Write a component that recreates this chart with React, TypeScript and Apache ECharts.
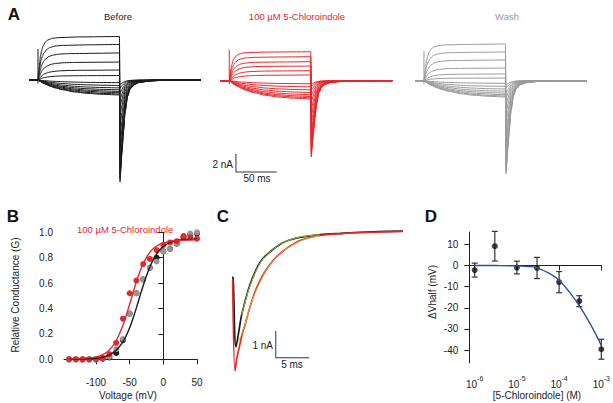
import React, { useEffect, useRef } from 'react';
import * as echarts from 'echarts';

const FONT = '"Liberation Sans", Arial, Helvetica, sans-serif';
const RED = '#e8262b';
const GRAY = '#959595';
const BLACK = '#1a1a1a';

// ---------- Panel A (ms, nA) ----------
const A_TITLES = ['Before', '100 µM 5-Chloroindole', 'Wash'];
const A_COLORS = [BLACK, RED, '#9a9a9a'];
const A_OUTWARD = [
  [4.97, 4.06, 3.09, 2.06, 1.14, 0.51],
  [3.31, 2.74, 2.17, 1.68, 1.14, 0.65],
  [4.19, 3.28, 2.37, 1.45, 0.77, 0.3],
];
const A_INWARD = [
  [-1.71, -1.6, -1.45, -1.3, -1.12, -0.9, -0.62, -0.3],
  [-2.09, -1.95, -1.8, -1.6, -1.35, -1.05, -0.7, -0.35],
  [-1.86, -1.75, -1.6, -1.42, -1.2, -0.95, -0.65, -0.3],
];
const A_TAIL_PEAKS = [
  [-11.66, -11.3, -10.8, -10.0, -9.0, -7.8, -6.5, -5.2, -4.0, -3.0, -2.2, -1.5, -0.9, -0.5],
  [-8.72, -8.4, -8.0, -7.4, -6.7, -5.9, -5.0, -4.1, -3.2, -2.4, -1.7, -1.1, -0.7, -0.4],
  [-10.66, -10.3, -9.8, -9.1, -8.2, -7.1, -6.0, -4.8, -3.7, -2.8, -2.0, -1.4, -0.8, -0.45],
];
const A_CAP = [3.54, 3.5, 3.4];
const ACT_STRETCH = [1, 1.25, 1.5, 1.8, 2.2, 2.6];
const ACT_SHAPE = [[1, 0.2], [2, 0.4], [3, 0.55], [4.5, 0.68], [6, 0.77], [9, 0.87], [12, 0.92], [18, 0.96], [25, 0.975], [50, 0.99]];
const INW_SHAPE = [[3, 0.1], [6, 0.2], [10, 0.3], [15, 0.42], [21, 0.53], [30, 0.65], [45, 0.8], [60, 0.89], [80, 0.96]];
const TAIL_SHAPE = [[100.6, 1], [101.5, 0.9], [103, 0.72], [105, 0.5], [107, 0.31], [110, 0.16], [113, 0.09], [118, 0.045], [125, 0.022], [140, 0.008], [160, 0], [200, 0]];
const A_GRID_LEFT = [28.2, 219.5, 414.2];
const A_GRID_TOP = [27.5, 28.2, 28.2];
const SCALE_A_X = [8.2, 58.2];
const SCALE_A_Y = [-8.38, -10.43];

// ---------- Panel B ----------
const B_V = [-140, -130, -120, -110, -100, -90, -80, -70, -60, -50, -40, -30, -20, -10, 0, 10, 20, 30, 40, 50];
const B_BLACK = [0, 0, 0, 0, 0, 0.005, 0.015, 0.05, 0.15, 0.36, 0.52, 0.63, 0.72, 0.8, 0.85, 0.87, 0.91, 0.96, 0.98, 0.99];
const B_GRAY = [0, 0, 0, 0, 0, 0.01, 0.02, 0.08, 0.16, 0.36, 0.52, 0.63, 0.72, 0.77, 0.85, 0.87, 0.91, 0.97, 0.99, 1.0];
const B_RED = [0, 0, 0, 0, 0, 0.01, 0.04, 0.13, 0.32, 0.52, 0.62, 0.75, 0.79, 0.86, 0.9, 0.92, 0.93, 0.97, 0.96, 0.95];
const B_FIT_V = [-140, -100, -90, -80, -70, -60, -55, -50, -45, -40, -35, -30, -25, -20, -15, -10, -5, 0, 10, 20, 30, 50];
const B_FIT_BLACK = [0, 0.008, 0.017, 0.035, 0.071, 0.137, 0.187, 0.249, 0.322, 0.405, 0.493, 0.579, 0.658, 0.727, 0.785, 0.829, 0.863, 0.888, 0.92, 0.935, 0.943, 0.948];
const B_FIT_RED = [0.001, 0.017, 0.036, 0.074, 0.146, 0.267, 0.347, 0.434, 0.524, 0.61, 0.687, 0.752, 0.803, 0.842, 0.871, 0.892, 0.907, 0.917, 0.929, 0.935, 0.937, 0.94];

// ---------- Panel C (ms, nA) ----------
const C_BLACK = [[0, -1.67], [0.08, -1.8], [0.5, -4.3], [0.9, -3.75], [1.3, -3.15], [1.84, -2.61], [2.35, -2.15], [2.85, -1.8], [3.84, -1.24], [4.5, -1.0], [5.34, -0.8], [6.3, -0.6], [7.35, -0.42], [8.5, -0.3], [9.83, -0.21], [12.8, -0.11], [16.3, -0.05], [20.8, 0.01], [25.5, 0.03]];
const C_RED = [[0, -1.8], [0.35, -5.2], [0.6, -4.75], [1.0, -4.3], [1.4, -3.85], [1.84, -3.48], [2.6, -2.8], [3.34, -2.24], [4.1, -1.82], [4.84, -1.49], [5.6, -1.22], [6.34, -0.99], [7.5, -0.72], [8.85, -0.49], [10.3, -0.3], [12.8, -0.14], [16.3, -0.06], [20.8, -0.01], [25.5, 0.02]];
const C_FIT_BLACK = [[1.35, -3.1], [1.84, -2.65], [2.35, -2.2], [2.85, -1.85], [3.84, -1.28], [4.5, -1.02], [5.34, -0.8], [6.3, -0.6], [7.35, -0.42], [8.5, -0.3], [9.83, -0.2], [11.4, -0.14], [13, -0.1]];
const C_FIT_RED = [[0.84, -4.1], [1.3, -3.85], [1.84, -3.45], [2.6, -2.8], [3.34, -2.3], [4.1, -1.88], [4.84, -1.52], [5.6, -1.24], [6.34, -1.0], [7.5, -0.72], [8.85, -0.5], [10.3, -0.32], [11.6, -0.22], [13, -0.14]];
const SCALE_C_X = [6.45, 11.45];
const SCALE_C_Y = [-3.71, -4.71];

// ---------- Panel D ----------
const D_LOGC = [-6, -5.523, -5, -4.523, -4, -3.523, -3];
const D_MEAN = [-2.2, 9.1, -1.0, -1.2, -7.9, -16.9, -39.6];
const D_ERR = [3.3, 7.0, 3.0, 5.0, 5.0, 2.6, 4.7];
const D_FIT_X = [-6, -5.5, -5, -4.75, -4.54, -4.23, -4.0, -3.76, -3.53, -3.29, -3.06, -3];
const D_FIT_Y = [0, -0.05, -0.2, -0.5, -1.0, -3.8, -7, -12.5, -18.8, -26.7, -35.3, -38];
const D_X_TICKS = [-6, -5, -4, -3];
const D_Y_TICKS = [-40, -30, -20, -10, 0, 10];

function buildTrace(plateau: number, stretch: number, shape: number[][], tailPeak: number) {
  const pts: number[][] = [[-11, 0], [0, 0]];
  for (const [t, s] of shape) {
    const tt = t * stretch;
    if (tt < 100) pts.push([tt, plateau * s]);
  }
  pts.push([100, plateau]);
  for (const [t, s] of TAIL_SHAPE) pts.push([t, tailPeak * s]);
  return pts;
}

const txt = (text: string, x: number, y: number, opts: any = {}) => ({
  type: 'text',
  x,
  y,
  rotation: opts.rotation || 0,
  style: {
    text,
    fill: opts.fill || '#222',
    font: `${opts.weight || 'normal'} ${opts.size || 10}px ${FONT}`,
    textAlign: opts.align || 'center',
    textVerticalAlign: 'middle',
  },
});

export default function App() {
  const ref = useRef<HTMLDivElement>(null);
  useEffect(() => {
    if (!ref.current) return;
    const chart = echarts.init(ref.current, undefined, { renderer: 'svg' });

    const grid: any[] = [];
    const xAxis: any[] = [];
    const yAxis: any[] = [];
    const series: any[] = [];

    // Panel A grids 0..2
    for (let p = 0; p < 3; p++) {
      grid.push({ left: A_GRID_LEFT[p], top: A_GRID_TOP[p], width: 172.8, height: 161.9 });
      xAxis.push({ gridIndex: p, type: 'value', min: -12, max: 200, show: false });
      yAxis.push({ gridIndex: p, type: 'value', min: -12.5, max: 6, show: false });
      const col = A_COLORS[p];
      const lineBase = { type: 'line', xAxisIndex: p, yAxisIndex: p, showSymbol: false, symbol: 'none', smooth: 0.25, smoothMonotone: 'x', lineStyle: { color: col, width: 1 }, silent: true };
      A_OUTWARD[p].forEach((pl, i) => {
        series.push({ ...lineBase, data: buildTrace(pl, ACT_STRETCH[i], ACT_SHAPE, A_TAIL_PEAKS[p][i]) });
      });
      A_INWARD[p].forEach((pl, j) => {
        series.push({ ...lineBase, data: buildTrace(pl, 1, INW_SHAPE, A_TAIL_PEAKS[p][6 + j]) });
      });
      series.push({ ...lineBase, smooth: false, data: [[0, A_CAP[p]], [0, -0.4]] });
    }
    // scale bar A (in red panel grid)
    series.push({
      type: 'line', xAxisIndex: 1, yAxisIndex: 1, symbol: 'none', silent: true,
      lineStyle: { color: '#333', width: 1 },
      data: [[SCALE_A_X[0], SCALE_A_Y[0]], [SCALE_A_X[0], SCALE_A_Y[1]], [SCALE_A_X[1], SCALE_A_Y[1]]],
    });

    const axisCommon = {
      axisLine: { lineStyle: { color: '#231f20', width: 1 } },
      axisTick: { lineStyle: { color: '#231f20', width: 1 }, length: 5 },
      splitLine: { show: false },
      axisLabel: { color: '#222', fontFamily: FONT, fontSize: 10 },
    };

    // Panel B grid 3
    grid.push({ left: 64, top: 232.3, width: 133, height: 131.7 });
    xAxis.push({
      ...axisCommon, gridIndex: 3, type: 'value', min: -147.5, max: 50,
      axisTick: { ...axisCommon.axisTick, customValues: [-100, -50, 0, 50] },
      axisLabel: { ...axisCommon.axisLabel, customValues: [-100, -50, 0, 50], margin: 13 },
    });
    yAxis.push({
      ...axisCommon, gridIndex: 3, type: 'value', min: -0.037, max: 1.0,
      axisTick: { ...axisCommon.axisTick, customValues: [0, 0.2, 0.4, 0.6, 0.8, 1.0] },
      axisLabel: { ...axisCommon.axisLabel, customValues: [0, 0.2, 0.4, 0.6, 0.8, 1.0], margin: 11, formatter: (v: number) => v.toFixed(1) },
    });
    const scat = (data: number[], color: string) => ({
      type: 'scatter', xAxisIndex: 3, yAxisIndex: 3, symbolSize: 6, silent: true,
      itemStyle: { color, opacity: 1 },
      data: B_V.map((v, i) => [v, data[i]]),
    });
    series.push(scat(B_BLACK, BLACK));
    series.push(scat(B_GRAY, GRAY));
    series.push(scat(B_RED, RED));
    series.push({
      type: 'line', xAxisIndex: 3, yAxisIndex: 3, symbol: 'none', smooth: 0.3, silent: true,
      lineStyle: { color: BLACK, width: 1.4 }, data: B_FIT_V.map((v, i) => [v, B_FIT_BLACK[i]]),
    });
    series.push({
      type: 'line', xAxisIndex: 3, yAxisIndex: 3, symbol: 'none', smooth: 0.3, silent: true,
      lineStyle: { color: RED, width: 1.4 }, data: B_FIT_V.map((v, i) => [v, B_FIT_RED[i]]),
    });

    // Panel C grid 4
    grid.push({ left: 232.7, top: 218.65, width: 170.3, height: 160.2 });
    xAxis.push({ gridIndex: 4, type: 'value', min: 0, max: 25.5, show: false });
    yAxis.push({ gridIndex: 4, type: 'value', min: -5.5, max: 0.5, show: false });
    const cLine = (data: number[][], color: string, width: number) => ({
      type: 'line', xAxisIndex: 4, yAxisIndex: 4, symbol: 'none', smooth: 0.4, silent: true,
      lineStyle: { color, width }, data,
    });
    series.push(cLine(C_BLACK, BLACK, 1.7));
    series.push(cLine(C_RED, RED, 1.7));
    series.push(cLine(C_FIT_BLACK, '#9cc63b', 1));
    series.push(cLine(C_FIT_RED, '#b9c43c', 1));
    series.push({
      type: 'line', xAxisIndex: 4, yAxisIndex: 4, symbol: 'none', silent: true,
      lineStyle: { color: '#333', width: 1 },
      data: [[SCALE_C_X[0], SCALE_C_Y[0]], [SCALE_C_X[0], SCALE_C_Y[1]], [SCALE_C_X[1], SCALE_C_Y[1]]],
    });

    // Panel D grid 5
    grid.push({ left: 469.3, top: 232, width: 133.4, height: 131 });
    xAxis.push({
      ...axisCommon, gridIndex: 5, type: 'value', min: -6.127, max: -3,
      axisTick: { ...axisCommon.axisTick, customValues: D_X_TICKS },
      axisLabel: {
        ...axisCommon.axisLabel, customValues: D_X_TICKS, margin: 12,
        formatter: (v: number) => `{b|10}{s|${Math.round(v)}}`,
        rich: {
          b: { fontSize: 10, fontFamily: FONT, color: '#222', lineHeight: 14, verticalAlign: 'bottom' },
          s: { fontSize: 7, fontFamily: FONT, color: '#222', lineHeight: 8, verticalAlign: 'top' },
        },
      },
    });
    yAxis.push({
      ...axisCommon, gridIndex: 5, type: 'value', min: -46.1, max: 15.8,
      axisTick: { ...axisCommon.axisTick, customValues: D_Y_TICKS },
      axisLabel: { ...axisCommon.axisLabel, customValues: D_Y_TICKS, margin: 11 },
    });
    series.push({
      type: 'line', xAxisIndex: 5, yAxisIndex: 5, symbol: 'none', smooth: 0.35, silent: true,
      lineStyle: { color: '#2f4f9f', width: 1.4 }, data: D_FIT_X.map((x, i) => [x, D_FIT_Y[i]]),
    });
    series.push({
      type: 'custom', xAxisIndex: 5, yAxisIndex: 5, silent: true,
      encode: { x: 0, y: 1 },
      data: D_LOGC.map((x, i) => [x, D_MEAN[i], D_ERR[i]]),
      renderItem: (params: any, api: any) => {
        const x = api.value(0);
        const m = api.value(1);
        const e = api.value(2);
        const top = api.coord([x, m + e]);
        const bot = api.coord([x, m - e]);
        const w = 3;
        const st = { stroke: '#333', lineWidth: 1.2 };
        return {
          type: 'group',
          children: [
            { type: 'line', shape: { x1: top[0], y1: top[1], x2: bot[0], y2: bot[1] }, style: st },
            { type: 'line', shape: { x1: top[0] - w, y1: top[1], x2: top[0] + w, y2: top[1] }, style: st },
            { type: 'line', shape: { x1: bot[0] - w, y1: bot[1], x2: bot[0] + w, y2: bot[1] }, style: st },
          ],
        };
      },
    });
    series.push({
      type: 'scatter', xAxisIndex: 5, yAxisIndex: 5, symbolSize: 6, silent: true,
      itemStyle: { color: '#111' }, data: D_LOGC.map((x, i) => [x, D_MEAN[i]]),
    });

    const graphic = [
      txt('A', 14, 14, { weight: 'bold', size: 17, fill: '#111' }),
      txt('B', 13, 216, { weight: 'bold', size: 17, fill: '#111' }),
      txt('C', 223, 216, { weight: 'bold', size: 17, fill: '#111' }),
      txt('D', 431, 216, { weight: 'bold', size: 17, fill: '#111' }),
      txt(A_TITLES[0], 118, 16, { size: 9.5, fill: '#222' }),
      txt(A_TITLES[1], 297, 16, { size: 9.5, fill: RED }),
      txt(A_TITLES[2], 507, 16, { size: 9.5, fill: '#999' }),
      txt('2 nA', 233, 164, { align: 'right' }),
      txt('50 ms', 257, 178),
      txt('100 µM 5-Chloroindole', 77, 229, { align: 'left', size: 9.5, fill: RED }),
      txt('Relative Conductance (G)', 15, 295, { rotation: Math.PI / 2 }),
      txt('Voltage (mV)', 128, 395),
      txt('1 nA', 273, 345, { align: 'right' }),
      txt('5 ms', 292, 364),
      txt('ΔVhalf (mV)', 432, 292, { rotation: Math.PI / 2 }),
      txt('[5-Chloroindole] (M)', 537, 395),
    ];

    chart.setOption({
      animation: false,
      backgroundColor: '#ffffff',
      grid,
      xAxis,
      yAxis,
      series,
      graphic,
    });
    return () => chart.dispose();
  }, []);
  return <div ref={ref} style={{ position: 'fixed', left: 0, top: 0, width: 613, height: 403 }} />;
}
